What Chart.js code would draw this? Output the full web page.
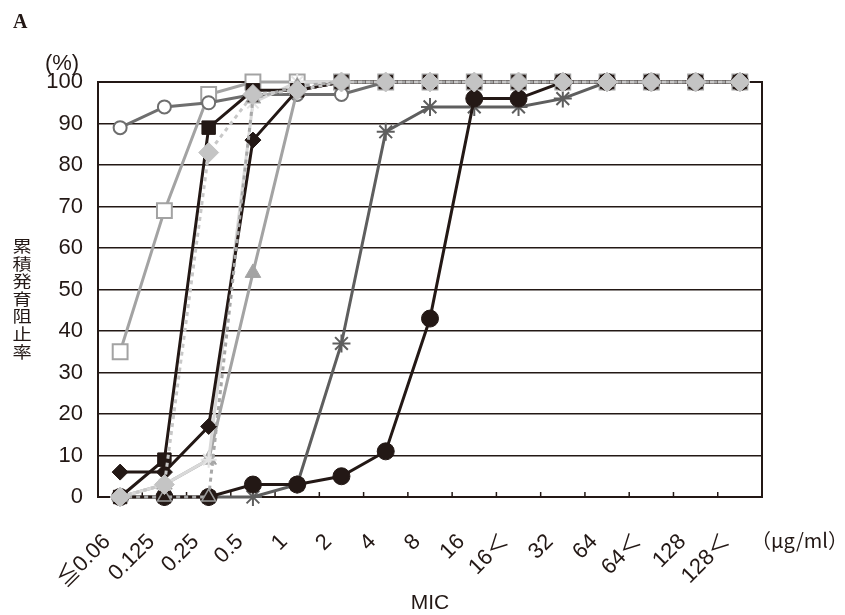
<!DOCTYPE html>
<html>
<head>
<meta charset="utf-8">
<script src="https://cdn.jsdelivr.net/npm/chart.js@4.4.1/dist/chart.umd.min.js"></script>
<style>
  html, body { margin: 0; padding: 0; background: #fff; }
  #wrap { width: 845px; height: 615px; }
</style>
</head>
<body>
<div id="wrap"><canvas id="micChart" width="845" height="615"></canvas></div>
<script>
// MIC categories (µg/ml)
const micLabels = ['≦0.06', '0.125', '0.25', '0.5', '1', '2', '4', '8', '16', '16＜', '32', '64', '64＜', '128', '128＜'];
const yTickValues = [0, 10, 20, 30, 40, 50, 60, 70, 80, 90, 100];

// cumulative inhibition rate (%) per series
const lightDiamond = [0, 3, 83, 97, 98, 100, 100, 100, 100, 100, 100, 100, 100, 100, 100];
const blackTriangle = [0, 0, 0, 96, 99, 100, 100, 100, 100, 100, 100, 100, 100, 100, 100];
const filledSquare = [0, 9, 89, 98, 98, 100, 100, 100, 100, 100, 100, 100, 100, 100, 100];
const blackDiamond = [6, 6, 17, 86, 98, 100, 100, 100, 100, 100, 100, 100, 100, 100, 100];
const lightStar = [0, 3, 9, 95, 100, 100, 100, 100, 100, 100, 100, 100, 100, 100, 100];
const grayTriangle = [0, 3, 9, 54, 98, 100, 100, 100, 100, 100, 100, 100, 100, 100, 100];
const filledCircle = [0, 0, 0, 3, 3, 5, 11, 43, 96, 96, 100, 100, 100, 100, 100];
const crossStar = [0, 0, 0, 0, 3, 37, 88, 94, 94, 94, 96, 100, 100, 100, 100];
const openCircle = [89, 94, 95, 97, 97, 97, 100, 100, 100, 100, 100, 100, 100, 100, 100];
const openSquare = [35, 69, 97, 100, 100, 100, 100, 100, 100, 100, 100, 100, 100, 100, 100];

const INK = '#231815';
const FONT = "'Liberation Sans', Arial, 'Noto Sans CJK JP', sans-serif";
const CJK = "'Noto Sans CJK JP', 'Liberation Sans', sans-serif";

Chart.defaults.font.family = FONT;
Chart.defaults.color = INK;

function series(data, opts) {
    return Object.assign({
        data: data,
        borderWidth: 3,
        pointBorderWidth: 2,
        tension: 0,
        clip: false
    }, opts);
}

// frame, inward x ticks and the free text around the plot
const extras = {
    id: 'extras',
    beforeDatasetsDraw(chart) {
        const { ctx, chartArea: a, scales: { x } } = chart;
        ctx.save();
        ctx.strokeStyle = INK;
        ctx.lineWidth = 2;
        ctx.strokeRect(a.left, a.top, a.right - a.left, a.bottom - a.top);
        ctx.lineWidth = 1.5;
        for (let i = 1; i < micLabels.length; i++) {
            const px = (x.getPixelForValue(i - 1) + x.getPixelForValue(i)) / 2;
            ctx.beginPath();
            ctx.moveTo(px, a.bottom);
            ctx.lineTo(px, a.bottom - 5);
            ctx.stroke();
        }
        ctx.restore();
    },
    afterDraw(chart) {
        const { ctx, chartArea: a } = chart;
        ctx.save();
        ctx.fillStyle = INK;
        ctx.font = "bold 20px 'Liberation Serif', serif";
        ctx.textAlign = 'left';
        ctx.textBaseline = 'alphabetic';
        ctx.fillText('A', 13, 28);

        ctx.font = '22px ' + FONT;
        ctx.textAlign = 'center';
        ctx.textBaseline = 'middle';
        ctx.fillText('(%)', 62, 64);

        // vertical title, one character per line, a bit wide like the original
        const yTitle = '累積発育阻止率';
        ctx.font = '16px ' + CJK;
        for (let i = 0; i < yTitle.length; i++) {
            ctx.save();
            ctx.translate(22, 246 + i * 17.6);
            ctx.scale(1.2, 1);
            ctx.fillText(yTitle[i], 0, 0);
            ctx.restore();
        }

        ctx.font = '21px ' + FONT;
        ctx.fillText('MIC', (a.left + a.right) / 2, 603);

        ctx.font = '20px ' + CJK;
        ctx.textAlign = 'left';
        ctx.fillText('（μg/ml）', 751, 540);
        ctx.restore();
    }
};

const chart = new Chart(document.getElementById('micChart'), {
    type: 'line',
    data: {
        labels: micLabels,
        datasets: [
            series(lightDiamond, {
                borderColor: '#c8c8c8', borderDash: [4, 4],
                pointStyle: 'rectRot', pointRadius: 10,
                pointBackgroundColor: '#c4c4c4', pointBorderColor: '#c4c4c4', pointBorderWidth: 1
            }),
            series(blackTriangle, {
                borderColor: '#a8a8a8', borderDash: [4, 4],
                pointStyle: 'triangle', pointRadius: 8,
                pointBackgroundColor: INK, pointBorderColor: '#9a9a9a', pointBorderWidth: 1.5
            }),
            series(filledSquare, {
                borderColor: INK,
                pointStyle: 'rect', pointRadius: 9.5,
                pointBackgroundColor: INK, pointBorderColor: INK, pointBorderWidth: 1
            }),
            series(blackDiamond, {
                borderColor: INK,
                pointStyle: 'rectRot', pointRadius: 8,
                pointBackgroundColor: INK, pointBorderColor: INK, pointBorderWidth: 1
            }),
            series(lightStar, {
                borderColor: '#d9d9d9',
                pointStyle: 'star', pointRadius: 8,
                pointBackgroundColor: '#e4e4e4', pointBorderColor: '#e4e4e4'
            }),
            series(grayTriangle, {
                borderColor: '#a3a3a3',
                pointStyle: 'triangle', pointRadius: 9,
                pointBackgroundColor: '#a3a3a3', pointBorderColor: '#a3a3a3', pointBorderWidth: 1
            }),
            series(filledCircle, {
                borderColor: INK,
                pointStyle: 'circle', pointRadius: 8.5,
                pointBackgroundColor: INK, pointBorderColor: INK, pointBorderWidth: 1
            }),
            series(crossStar, {
                borderColor: '#5e5e5e',
                pointStyle: 'star', pointRadius: 9,
                pointBackgroundColor: '#5e5e5e', pointBorderColor: '#5e5e5e'
            }),
            series(openCircle, {
                borderColor: '#6e6e6e',
                pointStyle: 'circle', pointRadius: 6.5,
                pointBackgroundColor: '#ffffff', pointBorderColor: '#6e6e6e'
            }),
            series(openSquare, {
                borderColor: '#a3a3a3',
                pointStyle: 'rect', pointRadius: 10.5,
                pointBackgroundColor: '#ffffff', pointBorderColor: '#a3a3a3'
            })
        ]
    },
    options: {
        responsive: false,
        animation: false,
        devicePixelRatio: 1,
        layout: { padding: { top: 82, right: 83, left: 0, bottom: 0 } },
        plugins: {
            legend: { display: false },
            tooltip: { enabled: false },
            title: { display: false }
        },
        scales: {
            x: {
                offset: true,
                afterFit: s => { s.height = 118; },
                grid: { display: false, drawTicks: false },
                border: { display: false },
                ticks: {
                    autoSkip: false,
                    maxRotation: 45,
                    minRotation: 45,
                    padding: 32,
                    labelOffset: -13,
                    color: INK,
                    font: { size: 22, family: FONT }
                }
            },
            y: {
                min: 0,
                max: 100,
                afterFit: s => { s.width = 98; },
                afterBuildTicks: s => { s.ticks = yTickValues.map(v => ({ value: v })); },
                grid: { color: INK, lineWidth: 1.5, drawTicks: false },
                border: { display: false },
                ticks: {
                    padding: 15,
                    color: INK,
                    font: { size: 22 }
                }
            }
        }
    },
    plugins: [extras]
});
</script>
</body>
</html>
